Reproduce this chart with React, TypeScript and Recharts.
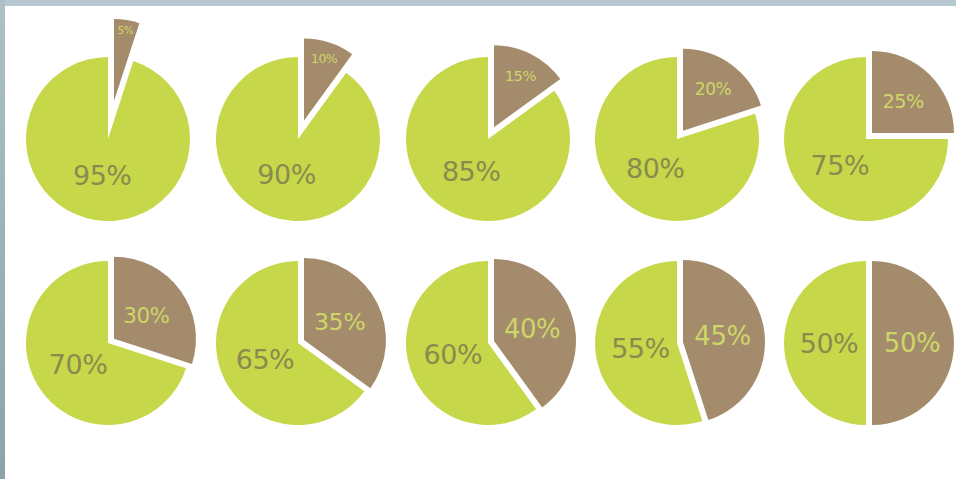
import React from 'react';
import { PieChart, Pie, Cell } from 'recharts';

const greenShares = [95, 90, 85, 80, 75, 70, 65, 60, 55, 50];
const brownShares = [5, 10, 15, 20, 25, 30, 35, 40, 45, 50];

const GREEN = '#c6d84a';
const BROWN = '#a48b6c';
const GREEN_TEXT = '#8b8a4e';
const BROWN_TEXT = '#ccd767';

const COL_X = [108, 298, 488, 677, 866];
const ROW_Y = [139, 343];
const RADIUS = 82;
const GAP = 6;
const RAD = Math.PI / 180;

const makeLabel = (which: 'brown' | 'green') => (props: any) => {
  const { cx, cy, midAngle, index, value } = props;
  if ((which === 'brown' && index !== 0) || (which === 'green' && index !== 1)) return null;
  let r = 37;
  let size = 27;
  if (which === 'brown') {
    r = Math.max(40, 79 - 1.4 * value);
    size = Math.min(26, 8 + 0.45 * value);
  }
  const x = cx + r * Math.cos(-midAngle * RAD);
  const y = cy + r * Math.sin(-midAngle * RAD);
  return (
    <text
      x={x}
      y={y}
      fill={which === 'brown' ? BROWN_TEXT : GREEN_TEXT}
      fontSize={size}
      fontFamily="DejaVu Sans, sans-serif"
      textAnchor="middle"
      dominantBaseline="central"
      letterSpacing={-0.5}
    >
      {`${value}%`}
    </text>
  );
};

const App: React.FC = () => {
  return (
    <div style={{ position: 'fixed', left: 0, top: 0, width: 956, height: 479, background: '#fff', overflow: 'hidden' }}>
      <div style={{ position: 'absolute', left: 0, top: 0 }}>
        <PieChart width={956} height={479} margin={{ top: 0, right: 0, bottom: 0, left: 0 }}>
          {brownShares.map((b, i) => {
            const data = [
              { name: 'brown', value: b },
              { name: 'green', value: greenShares[i] },
            ];
            const cx = COL_X[i % 5];
            const cy = ROW_Y[Math.floor(i / 5)];
            // explode the brown slice so the gap is the same width on both cut edges
            const half = (b / 100) * 180 * RAD;
            const dx = GAP;
            const dy = -GAP / Math.tan(half);
            return (
              <React.Fragment key={`pie-${i}`}>
                <Pie
                  data={data}
                  dataKey="value"
                  cx={cx}
                  cy={cy}
                  outerRadius={RADIUS}
                  startAngle={90}
                  endAngle={-270}
                  stroke="none"
                  labelLine={false}
                  label={makeLabel('green')}
                  isAnimationActive={false}
                >
                  <Cell fill="none" />
                  <Cell fill={GREEN} />
                </Pie>
                <Pie
                  data={data}
                  dataKey="value"
                  cx={cx + dx}
                  cy={cy + dy}
                  outerRadius={RADIUS}
                  startAngle={90}
                  endAngle={-270}
                  stroke="none"
                  labelLine={false}
                  label={makeLabel('brown')}
                  isAnimationActive={false}
                >
                  <Cell fill={BROWN} />
                  <Cell fill="none" />
                </Pie>
              </React.Fragment>
            );
          })}
        </PieChart>
      </div>
      <div style={{ position: 'absolute', left: 0, top: 0, width: 956, height: 6, background: '#b8c8d0' }} />
      <div style={{ position: 'absolute', left: 0, top: 0, width: 5, height: 479, background: 'linear-gradient(#aebfc7, #8fa2ac)' }} />
    </div>
  );
};

export default App;
